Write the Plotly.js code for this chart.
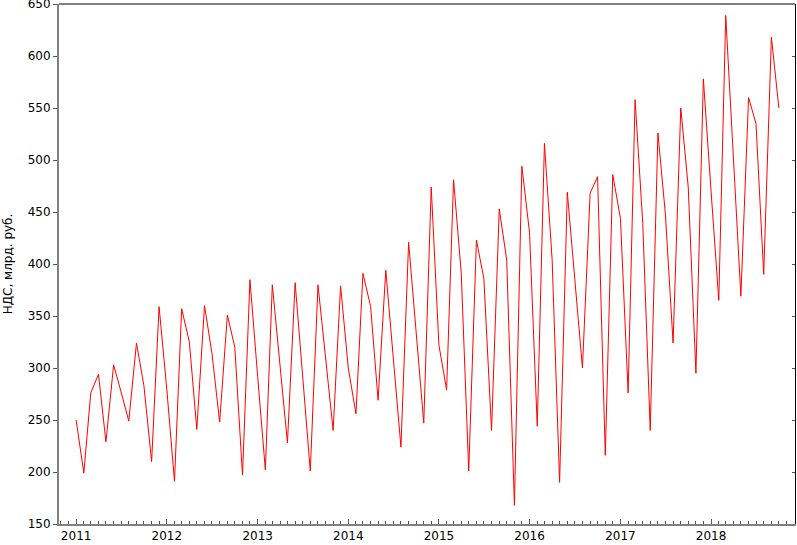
<!DOCTYPE html>
<html>
<head>
<meta charset="utf-8">
<script src="https://cdn.plot.ly/plotly-3.0.1.min.js"></script>
<style>
  body { margin: 0; background: #fff; }
  #chart { width: 797px; height: 545px; }
</style>
</head>
<body>
<div id="chart"></div>
<script>
//Monthly VAT receipts, Jan 2011 - Oct 2018
const months = [];
for (let y = 2011; y <= 2018; y++) {
  for (let m = 1; m <= 12; m++) {
    if (y === 2018 && m > 10) break;
    months.push(y + "-" + String(m).padStart(2, "0") + "-01");
  }
}

const vat2011 = [250, 199, 276, 294, 229, 303, 277, 249, 324, 283, 210, 359];
const vat2012 = [280, 191, 357, 325, 241, 360, 314, 248, 351, 320, 197, 385];
const vat2013 = [292, 202, 380, 300, 228, 382, 292, 201, 380, 312, 240, 379];
const vat2014 = [300, 256, 391, 359, 269, 394, 313, 224, 421, 338, 247, 474];
const vat2015 = [322, 279, 481, 391, 201, 423, 386, 240, 453, 404, 168, 494];
const vat2016 = [430, 244, 516, 404, 190, 469, 386, 300, 468, 484, 216, 486];
const vat2017 = [444, 276, 558, 439, 240, 526, 448, 324, 550, 474, 295, 578];
const vat2018 = [470, 365, 639, 505, 369, 560, 535, 390, 618, 550];

const vat = [].concat(vat2011, vat2012, vat2013, vat2014, vat2015, vat2016, vat2017, vat2018);

const yLabel = "НДС, млрд. руб.";

const traces = [
  {
    type: "scatter", mode: "lines",
    x: months, y: vat,
    line: { color: "#ff0000", width: 1 },
    hoverinfo: "x+y"
  },
  {
    //invisible copy so the right-hand tick axis is drawn
    type: "scatter", mode: "lines",
    x: months, y: vat, yaxis: "y2",
    line: { color: "rgba(0,0,0,0)", width: 0 },
    hoverinfo: "skip", showlegend: false
  }
];

const layout = {
  width: 797, height: 545,
  margin: { l: 59, r: 2, t: 4, b: 21 },
  paper_bgcolor: "#fff", plot_bgcolor: "#fff",
  showlegend: false,
  font: { family: "DejaVu Sans", size: 12, color: "#000" },
  xaxis: {
    type: "date",
    range: ["2010-10-24", "2018-12-05"],
    dtick: "M12", tick0: "2011-01-01", tickformat: "%Y",
    ticks: "inside", ticklen: 5, tickcolor: "#555", tickwidth: 1,
    minor: { dtick: "M1", ticks: "inside", ticklen: 3, tickcolor: "#555" },
    showline: true, linecolor: "#808080", linewidth: 2,
    showgrid: false, zeroline: false,
    ticklabeloverflow: "allow",
    tickfont: { size: 12 }
  },
  yaxis: {
    range: [150, 650], dtick: 50,
    ticks: "outside", ticklen: 4, tickcolor: "#555",
    showline: true, linecolor: "#808080", linewidth: 2,
    showgrid: false, zeroline: false,
    ticklabeloverflow: "allow",
    tickfont: { size: 12 },
    title: { text: yLabel, font: { size: 12 }, standoff: 12 }
  },
  yaxis2: {
    overlaying: "y", side: "right",
    range: [150, 650], dtick: 50,
    ticks: "inside", ticklen: 3, tickcolor: "#555",
    showticklabels: false, showline: true, linecolor: "#000", linewidth: 1,
    showgrid: false, zeroline: false
  },
  shapes: [
    { type: "line", xref: "paper", yref: "paper", x0: 0, x1: 1, y0: 1, y1: 1,
      line: { color: "#000", width: 1 } }
  ]
};

Plotly.newPlot("chart", traces, layout, { displayModeBar: false, staticPlot: true });
</script>
</body>
</html>
